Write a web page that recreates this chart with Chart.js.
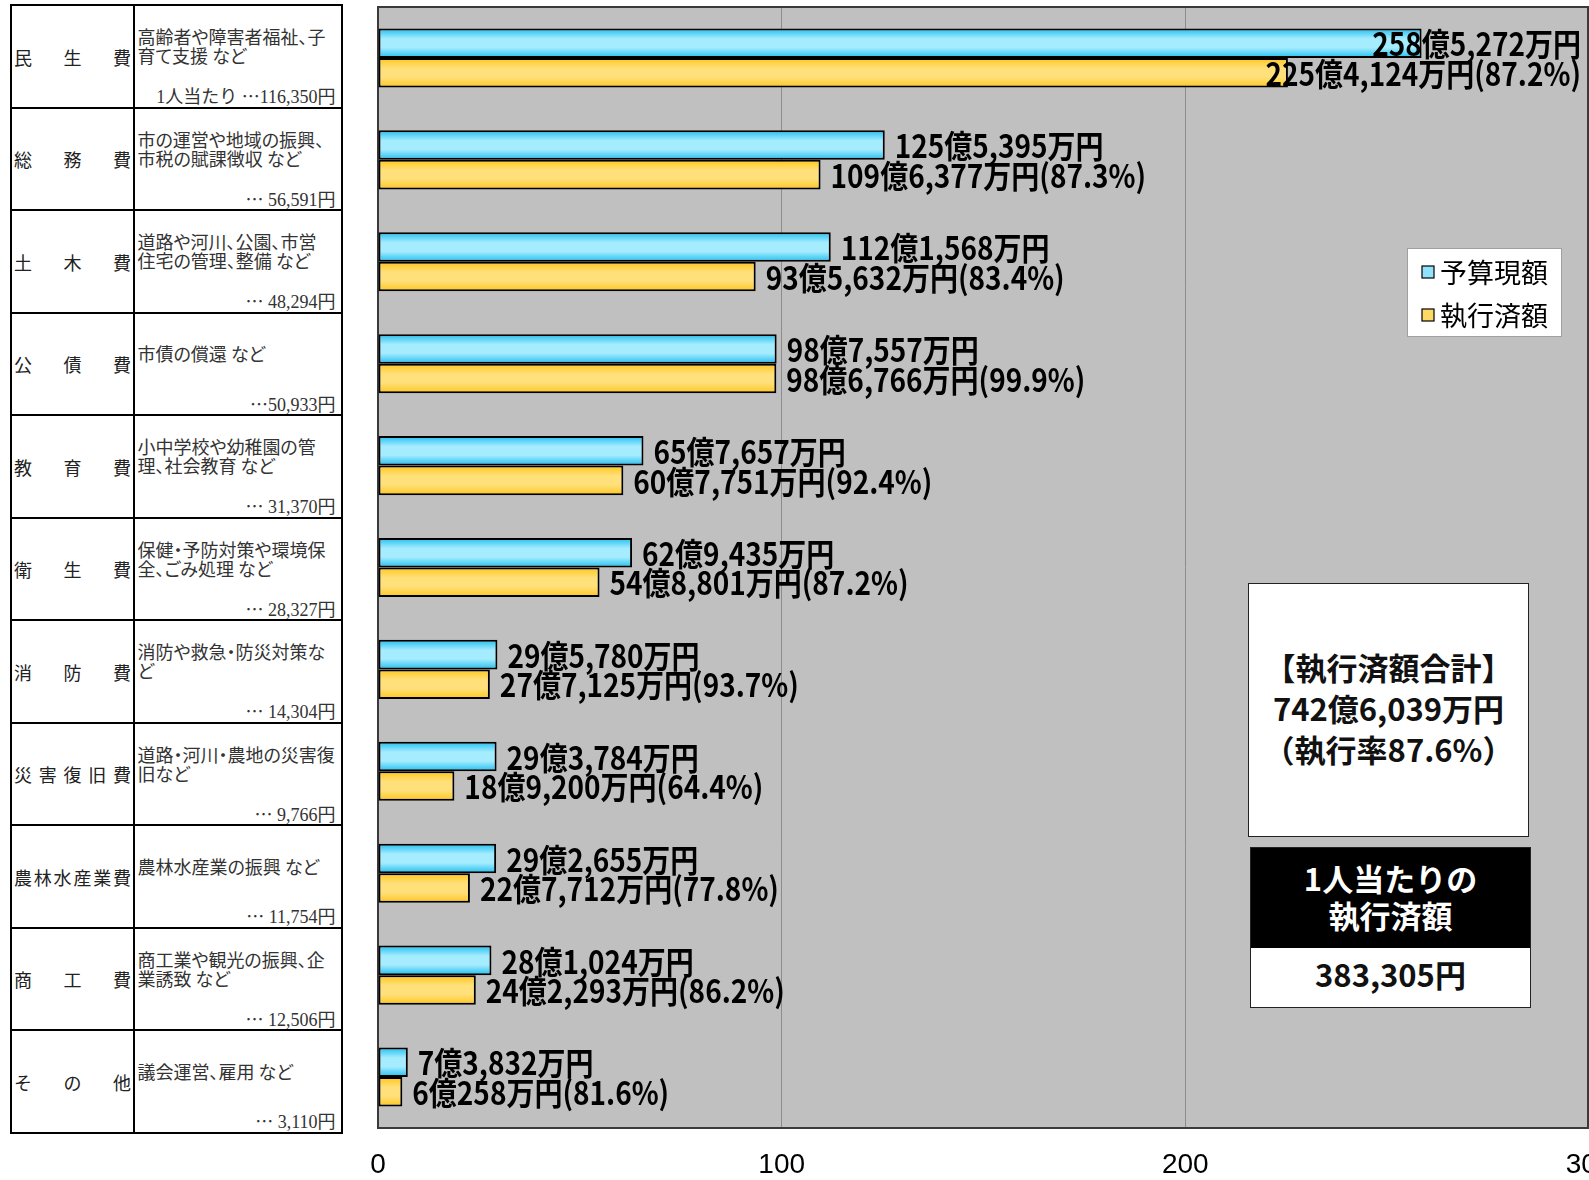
<!DOCTYPE html>
<html><head><meta charset="utf-8">
<script src="https://cdn.jsdelivr.net/npm/chart.js@4.4.1/dist/chart.umd.min.js"></script>
<style>
html,body{margin:0;padding:0;background:#fff;width:1589px;height:1180px;overflow:hidden;}
#wrap{position:relative;width:1589px;height:1180px;}
#c{position:absolute;left:0;top:0;}
.cell{position:absolute;box-sizing:border-box;border:2.5px solid #000;background:#fff;}
.name{display:flex;justify-content:space-between;align-items:center;padding:0 2px 0 2px;
  font-family:"Noto Sans CJK JP";font-size:18px;color:#222;}
.desc{position:absolute;left:3px;top:0;height:80px;display:flex;align-items:center;
  font-family:"Noto Sans CJK JP";font-size:18px;line-height:19px;color:#333;white-space:pre;font-feature-settings:"palt";}
.pc{position:absolute;right:5px;bottom:0px;font-family:"Liberation Serif","Noto Sans CJK JP";font-size:18px;line-height:20px;color:#333;white-space:pre;}
.pc .el{font-family:"Noto Sans CJK JP";}
.box{position:absolute;box-sizing:border-box;background:#fff;border:1.5px solid #222;
  font-family:"Noto Sans CJK JP";font-weight:700;color:#111;text-align:center;}
</style>
</head><body>
<div id="wrap">
<canvas id="c" width="1589" height="1180"></canvas>
</div>
<script>
// ---- data ----
const categories = ['民生費','総務費','土木費','公債費','教育費','衛生費','消防費','災害復旧費','農林水産業費','商工費','その他'];
const descriptions = [
  '高齢者や障害者福祉、子\n育て支援 など',
  '市の運営や地域の振興、\n市税の賦課徴収 など',
  '道路や河川、公園、市営\n住宅の管理、整備 など',
  '市債の償還 など',
  '小中学校や幼稚園の管\n理、社会教育 など',
  '保健・予防対策や環境保\n全、ごみ処理 など',
  '消防や救急・防災対策な\nど',
  '道路・河川・農地の災害復\n旧など',
  '農林水産業の振興 など',
  '商工業や観光の振興、企\n業誘致 など',
  '議会運営、雇用 など'
];
const perCapita = [116350, 56591, 48294, 50933, 31370, 28327, 14304, 9766, 11754, 12506, 3110];
// amounts in 万円
const budget   = [2585272, 1255395, 1121568, 987557, 657657, 629435, 295780, 293784, 292655, 281024, 73832];
const executed = [2254124, 1096377, 935632, 986766, 607751, 548801, 277125, 189200, 227712, 242293, 60258];
const rates    = [87.2, 87.3, 83.4, 99.9, 92.4, 87.2, 93.7, 64.4, 77.8, 86.2, 81.6];
const seriesNames = ['予算現額', '執行済額'];
const xTicks = [0, 100, 200, 300];

// ---- helpers ----
function fmtOku(man){
  const oku = Math.floor(man/10000), rest = man % 10000;
  return oku + '億' + rest.toLocaleString('en-US') + '万円';
}
const budgetLabels = budget.map(fmtOku);
const execLabels = executed.map((v,i)=>fmtOku(v) + '(' + rates[i].toFixed(1) + '%)');
const valueLabels = [budgetLabels, execLabels];

// ---- table ----
const wrap = document.getElementById('wrap');
const ROW = 102.5, TOP = 4;
categories.forEach((cat,i)=>{
  const top = TOP + i*ROW;
  const n = document.createElement('div');
  n.className = 'cell name';
  Object.assign(n.style,{left:'10px',top:top+'px',width:'125px',height:(ROW+2.5)+'px'});
  cat.split('').forEach(ch=>{const s=document.createElement('span');s.textContent=ch;n.appendChild(s);});
  wrap.appendChild(n);
  const d = document.createElement('div');
  d.className = 'cell';
  Object.assign(d.style,{left:'132.5px',top:top+'px',width:'210px',height:(ROW+2.5)+'px'});
  const ds = document.createElement('div'); ds.className='desc'; ds.textContent = descriptions[i];
  const pc = document.createElement('div'); pc.className='pc';
  const num = perCapita[i].toLocaleString('en-US');
  if (i===0) pc.appendChild(document.createTextNode('1人当たり '));
  const el = document.createElement('span'); el.className='el'; el.textContent='…'; pc.appendChild(el);
  pc.appendChild(document.createTextNode((num.length>=7 || i===3 ? '' : ' ') + num + '円'));
  d.appendChild(ds); d.appendChild(pc);
  wrap.appendChild(d);
});

// ---- summary boxes ----
const totalExec = executed.reduce((a,b)=>a+b,0);
const totalBudget = budget.reduce((a,b)=>a+b,0);
const totalRate = (totalExec/totalBudget*100).toFixed(1);
const totalPc = perCapita.reduce((a,b)=>a+b,0);
const tb = document.createElement('div');
tb.className='box';
Object.assign(tb.style,{left:'1248px',top:'583px',width:'281px',height:'254px',display:'flex',flexDirection:'column',justifyContent:'center',fontSize:'31px',lineHeight:'41px',paddingBottom:'6px'});
tb.innerHTML = '<div>【執行済額合計】</div><div>'+fmtOku(totalExec)+'</div><div>（執行率'+totalRate+'%）</div>';
wrap.appendChild(tb);
const pb = document.createElement('div');
pb.className='box';
Object.assign(pb.style,{left:'1250px',top:'847px',width:'281px',height:'161px'});
pb.innerHTML = '<div style="background:#000;color:#fff;height:100px;font-size:31px;line-height:37px;display:flex;flex-direction:column;justify-content:center;padding-bottom:4px;box-sizing:border-box;"><div>1人当たりの</div><div>執行済額</div></div>'+
  '<div style="font-size:31px;line-height:44px;padding-top:4px;">'+totalPc.toLocaleString('en-US')+'円</div>';
wrap.appendChild(pb);

// ---- chart ----
const BLUE = ['#1dbff0','#a6ecff','#a6ecff','#1dbff0'];
const YELLOW = ['#ffc61a','#ffe07a','#ffe07a','#ffc61a'];
const CAT_PCT = 0.58;
function grad(stops, di){
  return function(c){
    const chart = c.chart;
    if (!chart.chartArea || c.type !== 'data') return stops[1];
    const y = chart.scales.y;
    const center = y.getPixelForValue(c.dataIndex);
    const catW = Math.abs(y.getPixelForValue(1) - y.getPixelForValue(0));
    const barW = catW*CAT_PCT/2;
    const top = center - catW*CAT_PCT/2 + di*barW;
    const g = chart.ctx.createLinearGradient(0, top, 0, top+barW);
    g.addColorStop(0, stops[0]); g.addColorStop(0.35, stops[1]);
    g.addColorStop(0.65, stops[2]); g.addColorStop(1, stops[3]);
    return g;
  };
}
const SX = 0.875;
const plotPlugin = {
  id:'plotDeco',
  beforeDraw(chart){
    const {ctx, chartArea:a} = chart;
    ctx.save(); ctx.fillStyle='#c0c0c0'; ctx.fillRect(a.left,a.top,a.width,a.height); ctx.restore();
  },
  beforeDatasetsDraw(chart){
    const {ctx, chartArea:a} = chart;
    ctx.save(); ctx.strokeStyle='#3a3a3a'; ctx.lineWidth=2;
    ctx.strokeRect(a.left, a.top, a.width-1, a.height); ctx.restore();
  },
  afterDatasetsDraw(chart){
    const {ctx, chartArea:a} = chart;
    ctx.save();
    ctx.font = 'bold 32px "Noto Sans CJK JP"';
    ctx.fillStyle = '#000';
    ctx.textBaseline = 'middle';
    ctx.textAlign = 'left';
    chart.data.datasets.forEach((ds, di)=>{
      const meta = chart.getDatasetMeta(di);
      meta.data.forEach((bar, i)=>{
        const txt = valueLabels[di][i];
        const w = ctx.measureText(txt).width*SX;
        let x = bar.x + 10;
        if (x + w > a.right - 8) x = a.right - 8 - w;
        ctx.save(); ctx.translate(x, bar.y+1); ctx.scale(SX,1); ctx.fillText(txt,0,0); ctx.restore();
      });
    });
    // legend
    const lx = a.right - 182, ly = 248, lw = 154, lh = 88;
    ctx.fillStyle='#fff'; ctx.fillRect(lx,ly,lw,lh);
    ctx.strokeStyle='#a0a0a0'; ctx.lineWidth=1; ctx.strokeRect(lx+0.5,ly+0.5,lw,lh);
    const mk = ['#8fe3ff','#ffd966'];
    ctx.font = '27px "Noto Sans CJK JP"';
    chart.data.datasets.forEach((ds, di)=>{
      const cy = ly + 24 + di*43;
      ctx.fillStyle = mk[di]; ctx.fillRect(lx+15, cy-6, 12, 12);
      ctx.strokeStyle='#000'; ctx.lineWidth=1.2; ctx.strokeRect(lx+15, cy-6, 12, 12);
      ctx.fillStyle='#000'; ctx.fillText(ds.label, lx+33, cy+1);
    });
    ctx.restore();
  }
};

new Chart(document.getElementById('c'), {
  type:'bar',
  data:{
    labels: categories,
    datasets:[
      {label:seriesNames[0], data: budget.map(v=>v/10000), backgroundColor: grad(BLUE,0), borderColor:'#000', borderWidth:2, borderSkipped:false},
      {label:seriesNames[1], data: executed.map(v=>v/10000), backgroundColor: grad(YELLOW,1), borderColor:'#000', borderWidth:2, borderSkipped:false}
    ]
  },
  options:{
    indexAxis:'y',
    responsive:false,
    animation:false,
    devicePixelRatio:1,
    datasets:{bar:{barPercentage:1, categoryPercentage:CAT_PCT}},
    layout:{padding:{left:378, top:7, right:0, bottom:0}},
    plugins:{legend:{display:false}, tooltip:{enabled:false}},
    scales:{
      x:{min:0, max:300, position:'bottom',
        afterBuildTicks(s){ s.ticks = xTicks.map(v=>({value:v})); },
        ticks:{color:'#000', font:{family:'Liberation Sans', size:28}, padding:20, maxRotation:0, autoSkip:false},
        grid:{color:'#8c8c8c', lineWidth:1, drawTicks:false},
        border:{display:false},
        afterFit(s){ s.height = 52; s.paddingLeft = 0; s.paddingRight = 0; }
      },
      y:{display:false}
    }
  },
  plugins:[plotPlugin]
});
</script>
</body></html>
